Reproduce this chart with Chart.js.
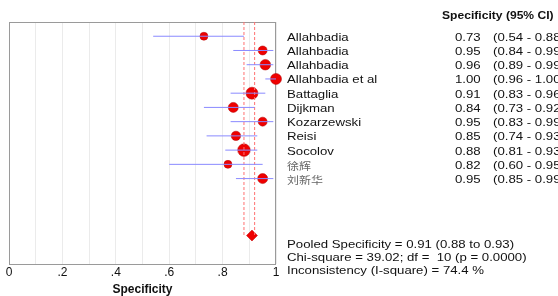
<!DOCTYPE html>
<html>
<head>
<meta charset="utf-8">
<script src="https://cdn.jsdelivr.net/npm/chart.js@4"></script>
<style>
  html, body { margin: 0; padding: 0; background: #fff; }
  #forest { display: block; }
</style>
</head>
<body>
<canvas id="forest" width="558" height="296"></canvas>
<script>
// data
const studies = ['Allahbadia', 'Allahbadia', 'Allahbadia', 'Allahbadia et al', 'Battaglia', 'Dijkman',
                 'Kozarzewski', 'Reisi', 'Socolov', '徐辉', '刘新华'];
const specificity = [0.73, 0.95, 0.96, 1.00, 0.91, 0.84, 0.95, 0.85, 0.88, 0.82, 0.95];
const ciLow  = [0.54, 0.84, 0.89, 0.96, 0.83, 0.73, 0.83, 0.74, 0.81, 0.60, 0.85];
const ciHigh = [0.88, 0.99, 0.99, 1.00, 0.96, 0.92, 0.99, 0.93, 0.93, 0.95, 0.99];
const studyWeight = [4, 4.5, 5.3, 5.5, 6, 5, 4.5, 4.7, 6.3, 4, 5];   // marker radius in picture
const pooled = 0.91;
const pooledLow = 0.88;
const pooledHigh = 0.93;
const refLines = [0.88, 0.92];
const chiSquare = 39.02;
const df = 10;
const pValue = '0.0000';
const iSquare = 74.4;
const xTickLabels = ['0', '.2', '.4', '.6', '.8', '1'];

const pooledRow = 15;
const FONT = '"Liberation Sans", Arial, sans-serif';
const CJK = '"Noto Sans CJK SC", "Liberation Sans", sans-serif';
const STRETCH = 1.2;

const datasets = [];

// confidence interval whiskers
studies.forEach((s, i) => {
    datasets.push({
        type: 'line',
        data: [{ x: ciLow[i], y: i + 1 }, { x: ciHigh[i], y: i + 1 }],
        borderColor: '#8a8aff',
        borderWidth: 1,
        pointRadius: 0,
        clip: false
    });
});

// pooled CI reference lines
refLines.forEach(v => {
    datasets.push({
        type: 'line',
        data: [{ x: v, y: 0 }, { x: v, y: pooledRow }],
        borderColor: '#ff7070',
        borderWidth: 1,
        borderDash: [3, 2],
        pointRadius: 0
    });
});

// study estimates
datasets.push({
    type: 'scatter',
    data: specificity.map((v, i) => ({ x: v, y: i + 1 })),
    backgroundColor: '#ee0000',
    borderColor: '#b00000',
    borderWidth: 0.5,
    pointRadius: studyWeight,
    clip: false
});

// pooled diamond
datasets.push({
    type: 'scatter',
    data: [{ x: pooled, y: pooledRow }],
    backgroundColor: '#ee0000',
    borderColor: '#c00000',
    borderWidth: 0.5,
    pointStyle: 'rectRot',
    pointRadius: 5.5
});

function stretchText(ctx, str, x, y, font, color, sx) {
    ctx.save();
    ctx.font = font;
    ctx.fillStyle = color;
    ctx.textBaseline = 'middle';
    ctx.translate(x, y + 1.5);
    ctx.scale(sx || STRETCH, 1);
    ctx.fillText(str, 0, 0);
    ctx.restore();
}

const frame = {
    id: 'frame',
    beforeDatasetsDraw(chart) {
        const { ctx, chartArea: a } = chart;
        ctx.save();
        ctx.strokeStyle = '#9a9a9a';
        ctx.lineWidth = 1;
        ctx.strokeRect(a.left + 0.5, a.top + 0.5, a.right - a.left - 1, a.bottom - a.top);
        ctx.restore();
    }
};

const sideTable = {
    id: 'sideTable',
    afterDraw(chart) {
        const ctx = chart.ctx;
        const y = chart.scales.y;
        const nameX = chart.chartArea.right + 11;
        stretchText(ctx, 'Specificity (95% CI)', 442, y.getPixelForValue(-0.55), 'bold 11px ' + FONT, '#111', 1.1);
        studies.forEach((s, i) => {
            const py = y.getPixelForValue(i + 1);
            const cjk = /[\u4e00-\u9fff]/.test(s);
            stretchText(ctx, s, nameX, py, cjk ? '10px ' + CJK : '11px ' + FONT, cjk ? '#666' : '#111');
            stretchText(ctx, specificity[i].toFixed(2), 455, py, '11px ' + FONT, '#111');
            stretchText(ctx, '(' + ciLow[i].toFixed(2) + ' - ' + ciHigh[i].toFixed(2) + ')', 493, py, '11px ' + FONT, '#111');
        });
        const lines = [
            'Pooled Specificity = ' + pooled.toFixed(2) + ' (' + pooledLow.toFixed(2) + ' to ' + pooledHigh.toFixed(2) + ')',
            'Chi-square = ' + chiSquare.toFixed(2) + '; df =  ' + df + ' (p = ' + pValue + ')',
            'Inconsistency (I-square) = ' + iSquare.toFixed(1) + ' %'
        ];
        lines.forEach((t, k) => {
            stretchText(ctx, t, nameX, y.getPixelForValue(pooledRow + 0.55 + k * 0.9), '11px ' + FONT, '#111');
        });
    }
};

new Chart(document.getElementById('forest').getContext('2d'), {
    type: 'scatter',
    data: { datasets: datasets },
    options: {
        responsive: false,
        animation: false,
        layout: { padding: { left: 9, right: 282, top: 22, bottom: 0 } },
        plugins: { legend: { display: false }, tooltip: { enabled: false } },
        scales: {
            x: {
                type: 'linear',
                min: 0,
                max: 1,
                grid: { color: '#ebebeb', drawTicks: false },
                border: { display: false },
                ticks: {
                    stepSize: 0.1,
                    autoSkip: false,
                    maxRotation: 0,
                    padding: 3,
                    color: '#111',
                    font: { family: FONT, size: 12, lineHeight: 1 },
                    callback: (v, i) => (i % 2 === 0 ? xTickLabels[i / 2] : '')
                },
                title: {
                    display: true,
                    text: 'Specificity',
                    color: '#111',
                    font: { family: FONT, size: 12, weight: 'bold', lineHeight: 1 },
                    padding: { top: 2, bottom: 0 }
                }
            },
            y: {
                type: 'linear',
                min: 0,
                max: 17,
                reverse: true,
                display: false
            }
        }
    },
    plugins: [frame, sideTable]
});
</script>
</body>
</html>
